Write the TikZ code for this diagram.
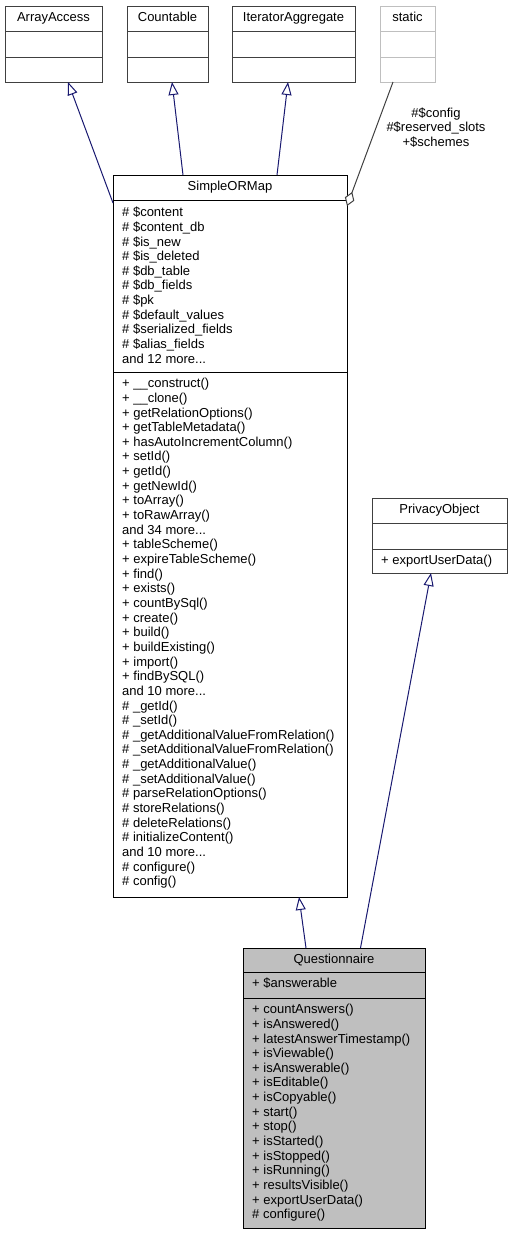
\documentclass[tikz,border=0pt]{standalone}
\usepackage{fontspec}
\setmainfont{Liberation Sans}
\usetikzlibrary{arrows.meta}
\definecolor{edgeblue}{HTML}{191970}
\definecolor{boxline}{HTML}{404040}
\definecolor{qfill}{HTML}{BFBFBF}
\definecolor{ghost}{HTML}{BFBFBF}
\newcommand\dxfont{\fontsize{13}{14.65}\selectfont}
\tikzset{
  cls/.style={draw=boxline, line width=1pt, anchor=north west, inner sep=0pt, outer sep=0pt},
  divider/.style={draw=boxline, line width=1pt},
  hdr/.style={anchor=base, inner sep=0pt, font=\dxfont},
  members/.style={anchor=base west, inner sep=0pt, align=left, font=\dxfont},
  inherit/.style={draw=edgeblue, line width=1pt, -{Triangle[open, length=13pt, width=10pt, fill=white]}},
  usage/.style={draw=boxline, line width=1pt, -{Diamond[open, length=15pt, width=10pt, fill=white]}},
}
\begin{document}
\begin{tikzpicture}[x=1pt, y=-1pt]
\useasboundingbox (0,0) rectangle (512,1235);

% ArrayAccess
\node[cls, minimum width=97pt, minimum height=76pt] (arrayaccess) at (5,6) {};
\draw[divider] (5,31) -- (102,31);
\draw[divider] (5,57) -- (102,57);
\node[hdr] (arrayaccess-t) at (53.5,21.7) {ArrayAccess};

% Countable
\node[cls, minimum width=81pt, minimum height=76pt] (countable) at (127,6) {};
\draw[divider] (127,31) -- (208,31);
\draw[divider] (127,57) -- (208,57);
\node[hdr] (countable-t) at (167.5,21.7) {Countable};

% IteratorAggregate
\node[cls, minimum width=123pt, minimum height=76pt] (iteragg) at (232,6) {};
\draw[divider] (232,31) -- (355,31);
\draw[divider] (232,57) -- (355,57);
\node[hdr] (iteragg-t) at (293.5,21.7) {IteratorAggregate};

% static
\node[cls, draw=ghost, minimum width=55pt, minimum height=76pt] (static) at (380,6) {};
\draw[divider, draw=ghost] (380,31) -- (435,31);
\draw[divider, draw=ghost] (380,57) -- (435,57);
\node[hdr] (static-t) at (407.5,21.7) {static};

% SimpleORMap
\node[cls, draw=black, minimum width=234pt, minimum height=722pt] (sorm) at (113,175) {};
\draw[divider, draw=black] (113,200) -- (347,200);
\draw[divider, draw=black] (113,372) -- (347,372);
\node[hdr] (sorm-t) at (230,190.7) {SimpleORMap};
% members nodes are anchored at the baseline of their last line
\node[members] (sorm-a) at (122,363.2) {\# \$content\\
\# \$content\_db\\
\# \$is\_new\\
\# \$is\_deleted\\
\# \$db\_table\\
\# \$db\_fields\\
\# \$pk\\
\# \$default\_values\\
\# \$serialized\_fields\\
\# \$alias\_fields\\
and 12 more...};
\node[members] (sorm-m) at (122,885.8) {+ \_\_construct()\\
+ \_\_clone()\\
+ getRelationOptions()\\
+ getTableMetadata()\\
+ hasAutoIncrementColumn()\\
+ setId()\\
+ getId()\\
+ getNewId()\\
+ toArray()\\
+ toRawArray()\\
and 34 more...\\
+ tableScheme()\\
+ expireTableScheme()\\
+ find()\\
+ exists()\\
+ countBySql()\\
+ create()\\
+ build()\\
+ buildExisting()\\
+ import()\\
+ findBySQL()\\
and 10 more...\\
\# \_getId()\\
\# \_setId()\\
\# \_getAdditionalValueFromRelation()\\
\# \_setAdditionalValueFromRelation()\\
\# \_getAdditionalValue()\\
\# \_setAdditionalValue()\\
\# parseRelationOptions()\\
\# storeRelations()\\
\# deleteRelations()\\
\# initializeContent()\\
and 10 more...\\
\# configure()\\
\# config()};

% PrivacyObject
\node[cls, minimum width=135pt, minimum height=75pt] (privacy) at (372,498) {};
\draw[divider] (372,523) -- (507,523);
\draw[divider] (372,549) -- (507,549);
\node[hdr] (privacy-t) at (439.5,513.7) {PrivacyObject};
\node[members] (privacy-m) at (381,564.7) {+ exportUserData()};

% Questionnaire
\node[cls, draw=black, fill=qfill, minimum width=182pt, minimum height=280pt] (quest) at (243,948) {};
\draw[divider, draw=black] (243,972) -- (425,972);
\draw[divider, draw=black] (243,998) -- (425,998);
\node[hdr] (quest-t) at (334,963.7) {Questionnaire};
\node[members] (quest-a) at (252,987.7) {+ \$answerable};
\node[members] (quest-m) at (252,1218.8) {+ countAnswers()\\
+ isAnswered()\\
+ latestAnswerTimestamp()\\
+ isViewable()\\
+ isAnswerable()\\
+ isEditable()\\
+ isCopyable()\\
+ start()\\
+ stop()\\
+ isStarted()\\
+ isStopped()\\
+ isRunning()\\
+ resultsVisible()\\
+ exportUserData()\\
\# configure()};

% connectors
\draw[inherit] ([yshift=-28pt]sorm.north west) -- ([xshift=14.5pt]arrayaccess.south);
\draw[inherit] ([xshift=-47pt]sorm.north) -- ([xshift=4.5pt]countable.south);
\draw[inherit] ([xshift=47pt]sorm.north) -- ([xshift=-5.5pt]iteragg.south);
\draw[usage] ([xshift=-14.5pt]static.south) -- ([yshift=-31pt]sorm.north east);
\node[align=center, anchor=base, inner sep=0pt, font=\fontsize{13}{14.5}\selectfont] (static-lbl) at (436,146) {\#\$config\\\#\$reserved\_slots\\+\$schemes};
\draw[inherit] ([xshift=-28pt]quest.north) -- ([xshift=69pt]sorm.south);
\draw[inherit] ([xshift=26.5pt]quest.north) -- ([xshift=-8.5pt]privacy.south);
\end{tikzpicture}
\end{document}
